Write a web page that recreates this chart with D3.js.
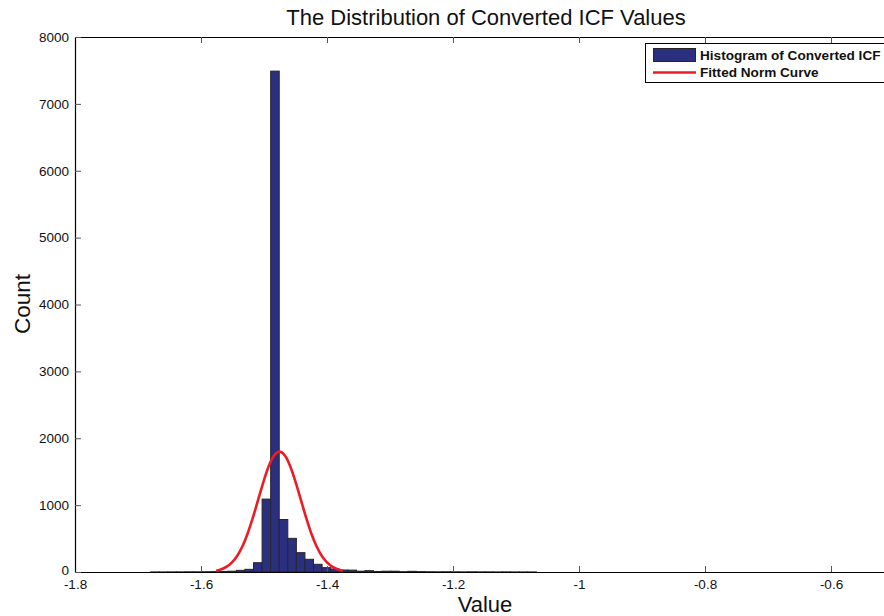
<!DOCTYPE html>
<html>
<head>
<meta charset="utf-8">
<script src="https://cdn.jsdelivr.net/npm/d3@7"></script>
<style>
  html, body { margin: 0; padding: 0; background: #fff; }
  svg { display: block; font-family: "Liberation Sans", Arial, Helvetica, sans-serif; }
</style>
</head>
<body>
<svg id="chart" width="884" height="616"></svg>
<script>
// ---------------- data ----------------
const binStart = -1.6799;      // left edge of first histogram bin
const binWidth = 0.013605;     // histogram bin width
const binCounts = [1, 1, 2, 2, 3, 3, 4, 6, 8, 12, 25, 40, 139, 1090, 7490, 785, 503, 289, 190, 115, 65, 45, 30, 28, 12, 20, 8, 12, 12, 5, 10, 6, 4, 3, 4, 3, 2, 3, 2, 2, 1, 2, 1, 1, 1];

const curveX = [-1.5759, -1.5675, -1.5592, -1.5508, -1.5424, -1.5340, -1.5257, -1.5173, -1.5089, -1.5005, -1.4922, -1.4838, -1.4754, -1.4670, -1.4587, -1.4503, -1.4419, -1.4335, -1.4252, -1.4168, -1.4084, -1.4000, -1.3917, -1.3833, -1.3749];
const curveY = [20, 41, 79, 143, 244, 389, 584, 824, 1092, 1359, 1589, 1745, 1800, 1745, 1589, 1359, 1092, 824, 584, 389, 244, 143, 79, 41, 20];

const xTicks = [-1.8, -1.6, -1.4, -1.2, -1, -0.8, -0.6];
const xTickLabels = ["-1.8", "-1.6", "-1.4", "-1.2", "-1", "-0.8", "-0.6"];
const yTicks = [0, 1000, 2000, 3000, 4000, 5000, 6000, 7000, 8000];
const yTickLabels = ["0", "1000", "2000", "3000", "4000", "5000", "6000", "7000", "8000"];

const titleText = "The Distribution of Converted ICF Values";
const xLabelText = "Value";
const yLabelText = "Count";
const legendLabels = ["Histogram of Converted ICF", "Fitted Norm Curve"];

// ---------------- layout ----------------
const svg = d3.select("#chart");
const L = 75, T = 37, B = 572, R = 894;
const x = d3.scaleLinear().domain([-1.8, -0.5]).range([L, R]);
const y = d3.scaleLinear().domain([0, 8000]).range([B, T]);

svg.append("defs").append("clipPath").attr("id", "plotclip")
  .append("rect").attr("x", L).attr("y", T).attr("width", R - L).attr("height", B - T);

const plot = svg.append("g").attr("clip-path", "url(#plotclip)");

// bars
const bins = binCounts.map((c, i) => ({ x0: binStart + i * binWidth, x1: binStart + (i + 1) * binWidth, c }));
plot.selectAll("rect.bar").data(bins).enter().append("rect")
  .attr("class", "bar")
  .attr("x", d => x(d.x0))
  .attr("width", d => x(d.x1) - x(d.x0))
  .attr("y", d => y(d.c))
  .attr("height", d => y(0) - y(d.c))
  .attr("fill", "#2b2f80")
  .attr("stroke", "#262626")
  .attr("stroke-width", 1);

// fitted curve
const pts = curveX.map((v, i) => [v, curveY[i]]);
plot.append("path")
  .datum(pts)
  .attr("fill", "none")
  .attr("stroke", "#ec1c24")
  .attr("stroke-width", 2.6)
  .attr("d", d3.line().x(d => x(d[0])).y(d => y(d[1])).curve(d3.curveCatmullRom));

// axes
const fmtX = (d) => xTickLabels[xTicks.indexOf(d)];
const fmtY = (d) => yTickLabels[yTicks.indexOf(d)];

const axB = svg.append("g").attr("transform", `translate(0,${B})`)
  .call(d3.axisBottom(x).tickValues(xTicks).tickFormat(fmtX).tickSizeInner(-6).tickSizeOuter(0).tickPadding(7));
const axT = svg.append("g").attr("transform", `translate(0,${T})`)
  .call(d3.axisTop(x).tickValues(xTicks).tickFormat("").tickSizeInner(-6).tickSizeOuter(0));
const axL = svg.append("g").attr("transform", `translate(${L},0)`)
  .call(d3.axisLeft(y).tickValues(yTicks).tickFormat(fmtY).tickSizeInner(-6).tickSizeOuter(0).tickPadding(6));
const axR = svg.append("g").attr("transform", `translate(${R},0)`)
  .call(d3.axisRight(y).tickValues(yTicks).tickFormat("").tickSizeInner(-6).tickSizeOuter(0));

[axB, axT, axL, axR].forEach(a => {
  a.select(".domain").attr("stroke", "#000").attr("stroke-width", 1.2);
  a.selectAll(".tick line").attr("stroke", "#555").attr("stroke-width", 1);
  a.selectAll(".tick text").attr("font-size", "13.5px").attr("fill", "#111")
    .attr("font-family", "'Liberation Sans', Arial, sans-serif");
});
// nudge the 0 label up a touch so it does not collide with the first x label
axL.selectAll(".tick text").filter(d => d === 0).attr("dy", "0.2em");

// titles
svg.append("text").attr("x", 486).attr("y", 25)
  .attr("text-anchor", "middle").attr("font-size", "22px").attr("fill", "#111").text(titleText);
svg.append("text").attr("x", 485).attr("y", 612)
  .attr("text-anchor", "middle").attr("font-size", "22px").attr("fill", "#111").text(xLabelText);
svg.append("text").attr("transform", `translate(30,${304}) rotate(-90)`)
  .attr("text-anchor", "middle").attr("font-size", "22.5px").attr("fill", "#111").text(yLabelText);

// legend
const lg = svg.append("g");
lg.append("rect").attr("x", 645.5).attr("y", 43.5).attr("width", 260).attr("height", 39)
  .attr("fill", "#fff").attr("stroke", "#000").attr("stroke-width", 1);
lg.append("rect").attr("x", 653.5).attr("y", 48.5).attr("width", 42).attr("height", 13)
  .attr("fill", "#2b2f80").attr("stroke", "#262626").attr("stroke-width", 1);
lg.append("line").attr("x1", 653).attr("x2", 696).attr("y1", 72.5).attr("y2", 72.5)
  .attr("stroke", "#ec1c24").attr("stroke-width", 2.6);
lg.append("text").attr("x", 700).attr("y", 59.5).attr("font-size", "13.6px").attr("font-weight", "bold")
  .attr("fill", "#111").text(legendLabels[0]);
lg.append("text").attr("x", 700).attr("y", 77).attr("font-size", "13.6px").attr("font-weight", "bold")
  .attr("fill", "#111").text(legendLabels[1]);
</script>
</body>
</html>
